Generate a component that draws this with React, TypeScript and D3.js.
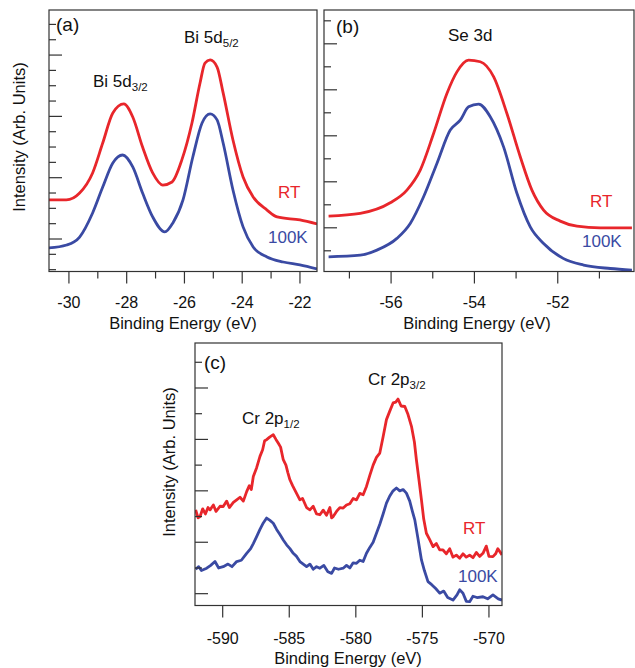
import React from "react";
import * as d3 from "d3";

// (a) Bi 5d
const biRTEnergy = [-30.69, -30.09, -29.63, -29.18, -28.83, -28.48, -28.1, -27.79, -27.45, -27.1, -26.75, -26.43, -26.09, -25.74, -25.46, -25.29, -25.11, -24.87, -24.66, -24.32, -23.97, -23.62, -23.14, -22.79, -22.0, -21.41];
const biRT = [4.55, 4.55, 5.0, 6.31, 8.26, 10.22, 10.81, 9.96, 8.0, 6.31, 5.52, 5.72, 7.16, 9.57, 12.18, 13.48, 13.68, 13.22, 11.53, 8.46, 6.05, 4.74, 3.89, 3.44, 3.24, 2.98];
const bi100KEnergy = [-30.7, -30.08, -29.63, -29.18, -28.83, -28.48, -28.14, -27.79, -27.45, -27.1, -26.68, -26.4, -26.05, -25.71, -25.39, -25.11, -24.87, -24.66, -24.32, -23.97, -23.62, -23.14, -22.58, -22.0, -21.41];
const bi100K = [1.42, 1.61, 2.13, 3.7, 5.39, 6.96, 7.48, 6.7, 5.0, 3.44, 2.46, 3.05, 4.55, 7.35, 9.57, 10.16, 9.77, 8.26, 5.2, 2.79, 1.48, 0.83, 0.5, 0.31, 0.05];

// (b) Se 3d
const seRTEnergy = [-57.5, -56.74, -56.02, -55.62, -55.3, -54.98, -54.66, -54.42, -54.14, -53.86, -53.54, -53.22, -52.9, -52.62, -52.34, -51.94, -51.54, -50.98, -50.22];
const seRT = [1.51, 1.63, 2.09, 2.64, 3.51, 5.1, 6.84, 7.78, 8.29, 8.22, 7.57, 5.97, 4.09, 2.64, 1.77, 1.29, 1.07, 1.0, 1.0];
const se100KEnergy = [-57.5, -56.74, -56.34, -55.86, -55.54, -55.22, -54.9, -54.58, -54.34, -54.14, -53.9, -53.62, -53.3, -52.98, -52.66, -52.34, -51.87, -51.38, -50.74, -50.22];
const se100K = [-0.26, -0.19, 0.03, 0.54, 1.19, 2.35, 3.8, 5.25, 5.68, 6.26, 6.38, 5.83, 4.52, 2.5, 1.04, 0.32, -0.33, -0.62, -0.77, -0.84];

// (c) Cr 2p
const crRTEnergy = [-592.03, -591.85, -591.7, -591.5, -591.3, -591.1, -590.95, -590.7, -590.5, -590.2, -589.96, -589.7, -589.5, -589.2, -588.95, -588.7, -588.45, -588.2, -588.0, -587.85, -587.7, -587.45, -587.2, -587.0, -586.85, -586.7, -586.45, -586.2, -586.0, -585.83, -585.65, -585.45, -585.25, -585.1, -584.95, -584.75, -584.5, -584.2, -584.0, -583.7, -583.45, -583.2, -582.95, -582.7, -582.45, -582.2, -581.95, -581.82, -581.7, -581.45, -581.2, -580.95, -580.7, -580.45, -580.2, -579.95, -579.7, -579.45, -579.2, -578.95, -578.7, -578.45, -578.2, -577.95, -577.7, -577.45, -577.2, -577.0, -576.83, -576.6, -576.32, -576.1, -575.82, -575.6, -575.45, -575.25, -575.07, -574.9, -574.7, -574.45, -574.2, -573.95, -573.7, -573.45, -573.2, -572.95, -572.7, -572.45, -572.2, -571.95, -571.7, -571.45, -571.2, -570.95, -570.7, -570.45, -570.2, -570.0, -569.7, -569.5, -569.33, -569.02];
const crRT = [3.26, 2.95, 3.0, 3.3, 3.1, 3.35, 3.26, 3.45, 3.2, 3.4, 3.39, 3.6, 3.35, 3.55, 3.65, 3.75, 3.6, 3.97, 4.2, 4.05, 4.56, 4.9, 5.34, 5.6, 5.95, 5.99, 6.1, 6.18, 6.0, 5.86, 5.7, 5.21, 5.0, 4.7, 4.43, 4.2, 3.95, 3.65, 3.7, 3.35, 3.26, 3.4, 3.1, 3.07, 3.25, 3.05, 3.35, 2.95, 3.0, 3.2, 3.35, 3.33, 3.45, 3.5, 3.7, 3.65, 3.9, 3.85, 4.17, 4.6, 5.0, 5.3, 5.47, 6.1, 6.77, 7.1, 7.42, 7.45, 7.57, 7.3, 7.28, 7.0, 6.51, 5.9, 5.21, 4.4, 3.65, 2.9, 2.35, 2.1, 1.83, 1.95, 1.7, 1.7, 1.55, 1.75, 1.42, 1.5, 1.38, 1.55, 1.42, 1.5, 1.4, 1.6, 1.45, 1.57, 1.85, 1.45, 1.44, 1.55, 1.75, 1.51];
const cr100KEnergy = [-592.03, -591.8, -591.6, -591.2, -590.9, -590.58, -590.3, -589.96, -589.6, -589.3, -588.95, -588.6, -588.2, -587.9, -587.7, -587.45, -587.2, -586.95, -586.7, -586.45, -586.2, -585.95, -585.7, -585.45, -585.2, -584.95, -584.7, -584.45, -584.2, -583.95, -583.7, -583.45, -583.2, -582.95, -582.7, -582.4, -582.1, -581.82, -581.6, -581.3, -580.95, -580.7, -580.45, -580.2, -579.95, -579.7, -579.45, -579.2, -578.95, -578.7, -578.45, -578.2, -577.95, -577.7, -577.45, -577.2, -576.95, -576.7, -576.45, -576.2, -575.95, -575.75, -575.57, -575.35, -575.07, -574.85, -574.58, -574.3, -574.0, -573.7, -573.4, -573.1, -572.7, -572.4, -572.2, -571.95, -571.7, -571.45, -571.2, -570.9, -570.45, -570.1, -569.7, -569.3, -569.02];
const cr100K = [0.95, 1.05, 0.9, 0.99, 1.1, 1.25, 1.0, 1.05, 1.15, 1.05, 1.25, 1.3, 1.57, 1.75, 1.95, 2.22, 2.5, 2.75, 2.94, 2.85, 2.74, 2.5, 2.3, 2.09, 1.9, 1.75, 1.57, 1.45, 1.25, 1.15, 1.05, 1.15, 0.95, 1.05, 0.99, 1.1, 0.85, 0.79, 1.0, 0.95, 0.99, 1.1, 1.0, 1.2, 1.18, 1.3, 1.25, 1.57, 1.8, 2.0, 2.35, 2.7, 3.1, 3.52, 3.8, 4.0, 4.11, 4.0, 4.05, 3.91, 3.6, 3.2, 2.87, 2.2, 1.31, 0.9, 0.47, 0.35, 0.2, 0.02, 0.1, -0.15, -0.25, -0.05, 0.15, 0.02, -0.3, -0.31, -0.1, -0.15, -0.12, -0.2, -0.05, -0.2, -0.25];

// ticks
const biMajor = [-30, -28, -26, -24, -22];
const biMinor = [-29, -27, -25, -23];
const seMajor = [-56, -54, -52];
const seMinor = [-57, -55, -53, -51];
const crMajor = [-590, -585, -580, -575, -570];

const FONT = '"Liberation Sans", Arial, sans-serif';
const RED = "#e8262b";
const BLUE = "#3a4aa3";
const AXIS = "#333";

function Panel({ box, xDomain, yDomain, xMajor, xMinor, nY, isLong, series, curve, tickY }) {
  const [x0, y0, x1, y1] = box;
  const x = d3.scaleLinear().domain(xDomain).range([x0, x1]);
  const y = d3.scaleLinear().domain(yDomain).range([y1, y0]);
  const line = d3
    .line()
    .x((d) => x(d[0]))
    .y((d) => y(d[1]))
    .curve(curve);
  const yTicks = d3.range(nY);
  return (
    <g>
      <defs>
        <clipPath id={"clip" + x0}>
          <rect x={x0} y={y0} width={x1 - x0} height={y1 - y0} />
        </clipPath>
      </defs>
      <g clipPath={`url(#clip${x0})`}>
        {series.map((s, i) => (
          <path
            key={i}
            d={line(s.xs.map((v, j) => [v, s.ys[j]]))}
            fill="none"
            stroke={s.color}
            strokeWidth={2.8}
            strokeLinejoin="round"
          />
        ))}
      </g>
      <rect x={x0} y={y0} width={x1 - x0} height={y1 - y0} fill="none" stroke={AXIS} strokeWidth={1.2} />
      {yTicks.map((t) => (
        <line key={"y" + t} x1={x0} x2={x0 + (isLong(t) ? 13 : 7)} y1={y(t)} y2={y(t)} stroke={AXIS} strokeWidth={1.2} />
      ))}
      {xMinor.map((t) => (
        <line key={"n" + t} x1={x(t)} x2={x(t)} y1={y1} y2={y1 + 7} stroke={AXIS} strokeWidth={1.2} />
      ))}
      {xMajor.map((t) => (
        <g key={"m" + t}>
          <line x1={x(t)} x2={x(t)} y1={y1} y2={y1 + 12} stroke={AXIS} strokeWidth={1.2} />
          <text x={x(t)} y={tickY} textAnchor="middle" fontSize={16} fill="#111">
            {t}
          </text>
        </g>
      ))}
    </g>
  );
}

function Label({ x, y, main, sub, color = "#111" }) {
  return (
    <text x={x} y={y} fontSize={17} fill={color}>
      {main}
      {sub && (
        <tspan fontSize={11.5} dy={4}>
          {sub}
        </tspan>
      )}
    </text>
  );
}

export default function App() {
  return (
    <svg
      width={635}
      height={668}
      style={{ position: "absolute", left: 0, top: 0, background: "#fff" }}
      fontFamily={FONT}
    >
      <Panel
        box={[49, 10, 317, 271.5]}
        xDomain={[-30.69, -21.41]}
        yDomain={[-0.12, 16.94]}
        xMajor={biMajor}
        xMinor={biMinor}
        nY={17}
        isLong={(t) => t % 4 === 2}
        curve={d3.curveMonotoneX}
        tickY={308}
        series={[
          { xs: biRTEnergy, ys: biRT, color: RED },
          { xs: bi100KEnergy, ys: bi100K, color: BLUE },
        ]}
      />
      <Panel
        box={[324, 10, 634, 271.5]}
        xDomain={[-57.61, -50.17]}
        yDomain={[-0.9, 10.47]}
        xMajor={seMajor}
        xMinor={seMinor}
        nY={11}
        isLong={(t) => t % 2 === 1}
        curve={d3.curveMonotoneX}
        tickY={308}
        series={[
          { xs: seRTEnergy, ys: seRT, color: RED },
          { xs: se100KEnergy, ys: se100K, color: BLUE },
        ]}
      />
      <Panel
        box={[195, 343, 502, 605.5]}
        xDomain={[-592.08, -569.02]}
        yDomain={[-0.46, 9.75]}
        xMajor={crMajor}
        xMinor={[]}
        nY={10}
        isLong={(t) => t % 2 === 0}
        curve={d3.curveLinear}
        tickY={644}
        series={[
          { xs: crRTEnergy, ys: crRT, color: RED },
          { xs: cr100KEnergy, ys: cr100K, color: BLUE },
        ]}
      />

      {/* axis titles */}
      <text x={183} y={329} textAnchor="middle" fontSize={16.5} fill="#111">Binding Energy (eV)</text>
      <text x={477} y={329} textAnchor="middle" fontSize={16.5} fill="#111">Binding Energy (eV)</text>
      <text x={348} y={664} textAnchor="middle" fontSize={16.5} fill="#111">Binding Energy (eV)</text>
      <text transform="translate(25,137) rotate(-90)" textAnchor="middle" fontSize={16.5} fill="#111">Intensity (Arb. Units)</text>
      <text transform="translate(175,462) rotate(-90)" textAnchor="middle" fontSize={16.5} fill="#111">Intensity (Arb. Units)</text>

      {/* panel letters */}
      <text x={56} y={31} fontSize={19} fill="#111">(a)</text>
      <text x={336} y={33} fontSize={19} fill="#111">(b)</text>
      <text x={204} y={369} fontSize={19} fill="#111">(c)</text>

      {/* peak labels */}
      <Label x={93} y={87} main="Bi 5d" sub="3/2" />
      <Label x={184} y={42.5} main="Bi 5d" sub="5/2" />
      <Label x={448} y={41} main="Se 3d" />
      <Label x={242} y={424} main="Cr 2p" sub="1/2" />
      <Label x={368} y={385} main="Cr 2p" sub="3/2" />

      {/* temperature labels */}
      <Label x={278} y={198} main="RT" color={RED} />
      <Label x={268} y={243} main="100K" color={BLUE} />
      <Label x={590} y={206.5} main="RT" color={RED} />
      <Label x={582} y={246.5} main="100K" color={BLUE} />
      <Label x={463} y={533.5} main="RT" color={RED} />
      <Label x={458} y={581.5} main="100K" color={BLUE} />
    </svg>
  );
}
